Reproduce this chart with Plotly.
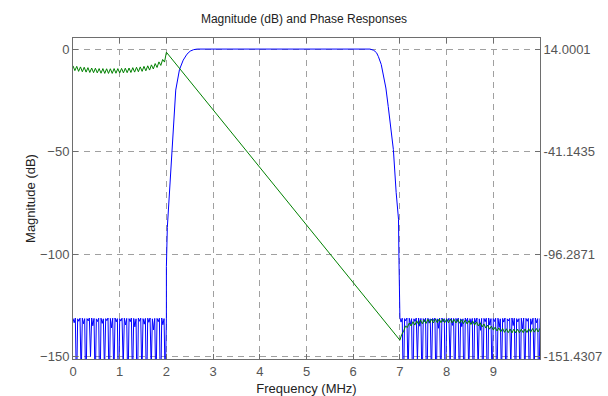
import numpy as np
import plotly.graph_objects as go

# ---------------- data ----------------
# magnitude (dB): stopband 1, 0..2 MHz sampled every 0.025 MHz
sb1_freq = np.round(np.arange(81) * 0.025, 4)
sb1_mag = [
    -131.4, -133.5, -131.2, -168,
    -131.6, -132.8, -131.3, -160,
    -131.3, -134.0, -131.5, -172,
    -131.5, -132.6, -131.2, -150,
    -131.2, -135.0, -131.4, -166,
    -131.6, -132.9, -131.3, -175,
    -131.3, -133.8, -131.6, -158,
    -131.5, -132.5, -131.2, -170,
    -131.4, -136.0, -131.3, -162,
    -131.2, -133.1, -131.5, -174,
    -131.6, -132.7, -131.3, -155,
    -131.3, -134.6, -131.4, -169,
    -131.5, -133.0, -131.2, -163,
    -131.4, -135.5, -131.6, -176,
    -131.2, -132.8, -131.3, -160,
    -131.5, -134.2, -131.4, -171,
    -131.3, -133.3, -131.2, -156,
    -131.6, -137.0, -131.4, -168,
    -131.4, -133.0, -131.3, -175,
    -131.2, -134.5, -131.5, -165,
    -131.4,
]
# transition bands and passband
edge_freq = [2.0, 2.02, 2.06, 2.10, 2.13, 2.16, 2.20, 2.28, 2.36, 2.44, 2.51, 2.58, 2.66,
             6.36, 6.44, 6.50, 6.54, 6.60, 6.64, 6.70, 6.75, 6.80, 6.86, 6.92, 6.97, 6.98, 6.995]
edge_mag = [-106, -87, -72, -60, -49, -38, -20, -10, -5.4, -2.5, -1.0, -0.3, 0.0,
            0.0, -0.6, -1.8, -3.7, -7.5, -11.9, -19, -28, -37, -49, -70, -83, -103, -129]
# stopband 2, 7..10 MHz sampled every 0.025 MHz
sb2_freq = np.round(7 + np.arange(121) * 0.025, 4)
sb2_mag = [
    -131.0, -133.2, -131.3, -170,
    -131.5, -132.6, -131.2, -158,
    -131.3, -134.4, -131.5, -173,
    -131.6, -132.9, -131.2, -152,
    -131.2, -135.2, -131.4, -167,
    -131.5, -133.0, -131.3, -176,
    -131.3, -133.7, -131.6, -160,
    -131.4, -132.5, -131.2, -171,
    -131.6, -136.2, -131.3, -163,
    -131.2, -133.1, -131.5, -174,
    -131.5, -132.7, -131.3, -154,
    -131.3, -134.8, -131.4, -169,
    -131.4, -133.0, -131.2, -165,
    -131.6, -135.4, -131.6, -177,
    -131.2, -132.8, -131.3, -159,
    -131.5, -134.1, -131.4, -172,
    -131.3, -133.4, -131.2, -157,
    -131.6, -137.2, -131.4, -168,
    -131.4, -133.0, -131.3, -175,
    -131.2, -134.6, -131.5, -164,
    -131.5, -132.9, -131.3, -170,
    -131.3, -135.8, -131.6, -161,
    -131.4, -133.2, -131.2, -176,
    -131.6, -132.6, -131.4, -155,
    -131.2, -134.9, -131.3, -169,
    -131.5, -133.1, -131.5, -173,
    -131.3, -136.5, -131.2, -162,
    -131.4, -132.8, -131.4, -171,
    -131.6, -134.3, -131.3, -158,
    -131.2, -133.5, -131.5, -174,
    -131.4,
]

# phase (right axis units)
ph1_freq = np.round(np.arange(51) * 0.04, 4)
ph1_val = [
    5.0, 2.4, 4.7, 2.0, 4.4, 1.8, 4.2, 1.6, 4.0, 1.4,
    3.8, 1.3, 3.7, 1.2, 3.5, 1.0, 3.5, 0.9, 3.4, 0.9,
    3.4, 0.9, 3.5, 1.0, 3.5, 1.1, 3.6, 1.2, 3.7, 1.3,
    3.8, 1.4, 4.0, 1.6, 4.2, 1.8, 4.4, 2.0, 4.7, 2.3,
    5.0, 2.7, 5.5, 3.3, 6.2, 4.1, 7.1, 5.2, 8.4, 7.0,
    12.3,
]
ph2_freq = np.round(7 + np.arange(76) * 0.04, 4)
ph2_val = [
    -142.6, -139.5, -137.8, -135.0, -135.8, -133.4, -135.0, -132.7, -134.5, -132.2,
    -134.1, -131.8, -133.8, -131.6, -133.6, -131.4, -133.4, -131.3, -133.3, -131.2,
    -133.2, -131.2, -133.2, -131.2, -133.2, -131.3, -133.3, -131.3, -133.3, -131.4,
    -133.4, -131.5, -133.5, -131.6, -133.7, -131.8, -133.9, -132.1, -134.2, -132.4,
    -134.5, -132.8, -135.0, -133.3, -135.5, -133.9, -136.1, -134.5, -136.7, -135.1,
    -137.2, -135.6, -137.7, -136.0, -138.1, -136.3, -138.4, -136.5, -138.6, -136.6,
    -138.7, -136.7, -138.7, -136.7, -138.7, -136.7, -138.6, -136.6, -138.5, -136.5,
    -138.4, -136.4, -138.3, -136.3, -138.2, -136.2,
]

x_ticks = [0, 1, 2, 3, 4, 5, 6, 7, 8, 9]
y_ticks = [-150, -100, -50, 0]
y2_ticks = [-151.4307, -96.2871, -41.1435, 14.0001]
y2_labels = ["-151.4307", "-96.2871", "-41.1435", "14.0001"]

# ---------------- figure ----------------
mag_f = list(sb1_freq) + edge_freq + list(sb2_freq)
mag_v = sb1_mag + edge_mag + sb2_mag
ph_f = list(ph1_freq) + list(ph2_freq)
ph_v = ph1_val + ph2_val

y_lo, y_hi = -151.2, 5.4
scale = (14.0001 - (-151.4307)) / 150.0
y2_lo = 14.0001 + scale * y_lo
y2_hi = 14.0001 + scale * y_hi

fig = go.Figure()
fig.add_trace(go.Scatter(x=mag_f, y=mag_v, mode="lines",
                         line=dict(color="#0000ff", width=1), yaxis="y"))
fig.add_trace(go.Scatter(x=ph_f, y=ph_v, mode="lines",
                         line=dict(color="#008000", width=1), yaxis="y2"))

font_family = "Liberation Sans, Arial, sans-serif"
axis_line = "#6e6e6e"
grid_col = "#a0a0a0"
tick_col = "#555555"

fig.update_layout(
    width=608, height=396,
    margin=dict(l=73, r=68, t=38, b=37),
    paper_bgcolor="white", plot_bgcolor="white",
    showlegend=False,
    font=dict(family=font_family, size=13, color=tick_col),
    title=dict(text="Magnitude (dB) and Phase Responses", x=0.5, xanchor="center",
               y=1 - 19 / 396, yanchor="middle",
               font=dict(family=font_family, size=12, color="#222222")),
    xaxis=dict(range=[0, 10], tickvals=x_ticks, ticks="inside", ticklen=5,
               tickcolor=axis_line, showline=True, linecolor=axis_line, linewidth=1,
               mirror="ticks", showgrid=True, gridcolor=grid_col, griddash="6px,5px",
               gridwidth=1, zeroline=False, automargin=False,
               tickfont=dict(size=13, color=tick_col),
               title=dict(text="Frequency (MHz)", standoff=9,
                          font=dict(size=13, color="#222222"))),
    yaxis=dict(range=[y_lo, y_hi], tickvals=y_ticks, ticks="inside", ticklen=5,
               tickcolor=axis_line, showline=True, linecolor=axis_line, linewidth=1,
               mirror=True, showgrid=True, gridcolor=grid_col, griddash="6px,5px",
               gridwidth=1, zeroline=False, automargin=False,
               tickfont=dict(size=13, color=tick_col),
               title=dict(text="Magnitude (dB)", standoff=1,
                          font=dict(size=13, color="#222222"))),
    yaxis2=dict(range=[y2_lo, y2_hi], overlaying="y", side="right",
                tickvals=y2_ticks, ticktext=y2_labels, ticks="inside", ticklen=5,
                tickcolor=axis_line, showline=True, linecolor=axis_line,
                showgrid=False, zeroline=False, automargin=False,
                tickfont=dict(size=13, color=tick_col)),
)

fig.write_html("out.html")
